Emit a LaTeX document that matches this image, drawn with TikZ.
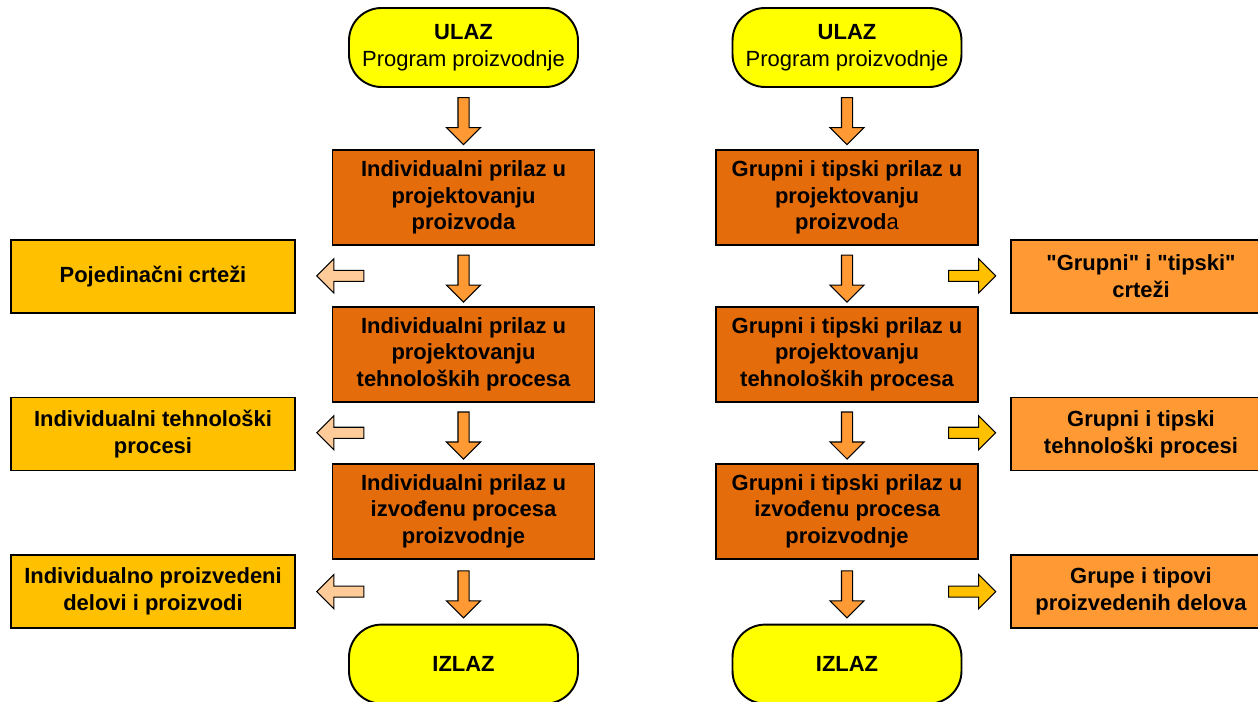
\documentclass[tikz,border=0pt]{standalone}
\usepackage{fontspec}
\setmainfont{Liberation Sans}
\usetikzlibrary{positioning,shapes.arrows,calc}

\definecolor{endyellow}{HTML}{FFFF00}
\definecolor{stepcol}{HTML}{E46C0A}
\definecolor{goldcol}{HTML}{FFC000}
\definecolor{lightor}{HTML}{FF9933}
\definecolor{peachcol}{HTML}{FFCC99}

\begin{document}
\begin{tikzpicture}[
	x=0.02cm, y=-0.02cm,
	node distance=1.2cm and 0cm,
	endbox/.style={draw, line width=1.1pt, rounded corners=0.65cm, fill=endyellow, minimum width=4.58cm, minimum height=1.58cm, align=center, font=\fontsize{12.5}{15.3}\selectfont},
	stepbox/.style={draw, line width=1.1pt, fill=stepcol, minimum width=5.24cm, minimum height=1.9cm, align=center, font=\fontsize{12.5}{15.3}\selectfont\bfseries},
	leftbox/.style={draw, line width=1.1pt, fill=goldcol, minimum width=5.68cm, minimum height=1.46cm, align=center, font=\fontsize{12.5}{15.3}\selectfont\bfseries},
	rightbox/.style={draw, line width=1.1pt, fill=lightor, minimum width=5.2cm, minimum height=1.46cm, align=center, font=\fontsize{12.5}{15.3}\selectfont\bfseries},
	blockarr/.style={single arrow, draw, line width=0.6pt, inner sep=0.1cm, minimum height=0.94cm, minimum width=0.66cm, single arrow head extend=0.23cm},
	downarr/.style={blockarr, fill=lightor, shape border rotate=270},
	leftarr/.style={blockarr, fill=peachcol, shape border rotate=180},
	rightarr/.style={blockarr, fill=goldcol}
	]
	\useasboundingbox (0,0) rectangle (1258,702);

	% left column
	\node[endbox] (ulazL) at (463.5,47.5) {\textbf{ULAZ}\\Program proizvodnje};
	\node[stepbox, below=1.22cm of ulazL] (indA) {Individualni prilaz u\\projektovanju\\proizvoda};
	\node[stepbox, below=of indA] (indB) {Individualni prilaz u\\projektovanju\\tehnoloških procesa};
	\node[stepbox, below=of indB] (indC) {Individualni prilaz u\\izvođenu procesa\\proizvodnje};
	\node[endbox, below=1.28cm of indC] (izlazL) {\textbf{IZLAZ}};

	\node[leftbox] (sideL1) at (153,276.5) {Pojedinačni crteži};
	\node[leftbox] (sideL2) at (153,434) {Individualni tehnološki\\procesi};
	\node[leftbox] (sideL3) at (153,591.5) {Individualno proizvedeni\\delovi i proizvodi};

	% right column
	\node[endbox] (ulazR) at (847,47.5) {\textbf{ULAZ}\\Program proizvodnje};
	\node[stepbox, below=1.22cm of ulazR] (grpA) {Grupni i tipski prilaz u\\projektovanju\\proizvod{\mdseries a}};
	\node[stepbox, below=of grpA] (grpB) {Grupni i tipski prilaz u\\projektovanju\\tehnoloških procesa};
	\node[stepbox, below=of grpB] (grpC) {Grupni i tipski prilaz u\\izvođenu procesa\\proizvodnje};
	\node[endbox, below=1.28cm of grpC] (izlazR) {\textbf{IZLAZ}};

	\node[rightbox] (sideR1) at (1141,276.5) {\textquotedbl Grupni\textquotedbl{} i \textquotedbl tipski\textquotedbl\\crteži};
	\node[rightbox] (sideR2) at (1141,434) {Grupni i tipski\\tehnološki procesi};
	\node[rightbox] (sideR3) at (1141,591.5) {Grupe i tipovi\\proizvedenih delova};

	% block arrows
	\node[downarr] (dL1) at ($(ulazL.south)!.5!(indA.north)$) {};
	\node[downarr] (dL2) at ($(indA.south)!.5!(indB.north)$) {};
	\node[downarr] (dL3) at ($(indB.south)!.5!(indC.north)$) {};
	\node[downarr] (dL4) at ($(indC.south)!.5!(izlazL.north)$) {};
	\node[downarr] (dR1) at ($(ulazR.south)!.5!(grpA.north)$) {};
	\node[downarr] (dR2) at ($(grpA.south)!.5!(grpB.north)$) {};
	\node[downarr] (dR3) at ($(grpB.south)!.5!(grpC.north)$) {};
	\node[downarr] (dR4) at ($(grpC.south)!.5!(izlazR.north)$) {};

	\node[leftarr] (lA1) at ($(indA.south west)!.5!(indB.north west)+(11.5,0)$) {};
	\node[leftarr] (lA2) at ($(indB.south west)!.5!(indC.north west)+(11.5,0)$) {};
	\node[leftarr] (lA3) at ($(indC.south west)!.5!(indC.south west |- izlazL.north)+(11.5,0)$) {};
	\node[rightarr] (rA1) at ($(grpA.south east)!.5!(grpB.north east)+(-9.5,0)$) {};
	\node[rightarr] (rA2) at ($(grpB.south east)!.5!(grpC.north east)+(-9.5,0)$) {};
	\node[rightarr] (rA3) at ($(grpC.south east)!.5!(grpC.south east |- izlazR.north)+(-9.5,0)$) {};
\end{tikzpicture}
\end{document}
